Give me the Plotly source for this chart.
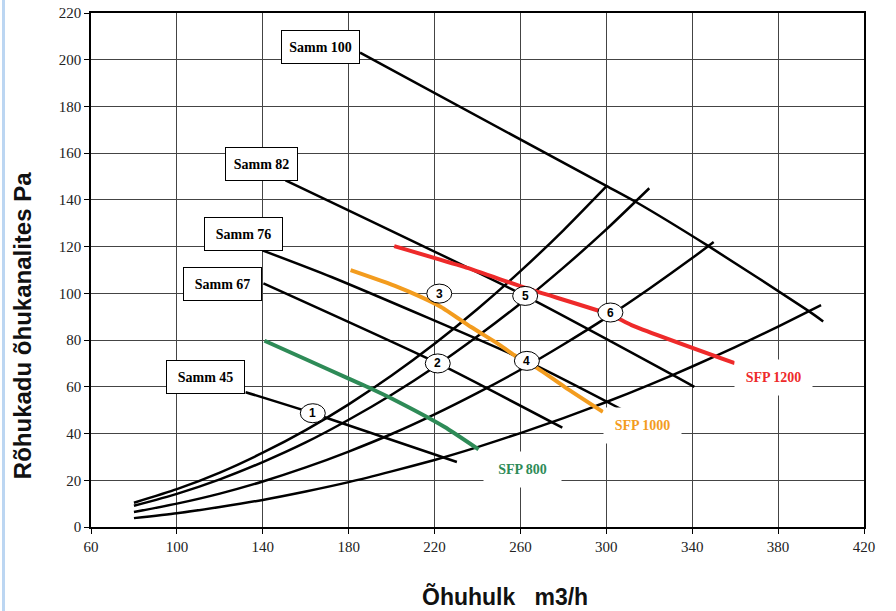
import plotly.graph_objects as go

# ---------------- data ----------------
# System curves (rising)
sys_a_x = [80, 100, 120, 140, 160, 180, 200, 220, 240, 260, 280, 300]
sys_a_y = [10.4, 16.2, 23.3, 31.8, 41.5, 52.5, 64.8, 78.4, 93.3, 109.5, 127.0, 145.8]
sys_b_x = [80, 100, 120, 140, 160, 180, 200, 220, 240, 260, 280, 300, 320]
sys_b_y = [9.1, 14.2, 20.4, 27.8, 36.2, 45.9, 56.6, 68.5, 81.6, 95.7, 111.0, 127.4, 145.0]
sys_c_x = [80, 100, 120, 140, 160, 180, 200, 220, 240, 260, 280, 300, 320, 340, 350]
sys_c_y = [6.4, 10.0, 14.3, 19.5, 25.5, 32.3, 39.8, 48.2, 57.4, 67.3, 78.1, 89.6, 102.0, 115.1, 122.0]
sys_d_x = [80, 100, 120, 140, 160, 180, 200, 220, 240, 260, 280, 300, 320, 340, 360, 380, 400]
sys_d_y = [3.8, 5.9, 8.6, 11.6, 15.2, 19.2, 23.8, 28.7, 34.2, 40.2, 46.6, 53.5, 60.8, 68.7, 77.0, 85.8, 95.0]

# Fan curves (Samm = speed step)
samm100_x = [185.3, 300, 314, 347.6, 394.3, 401]
samm100_y = [203.0, 146.0, 139.0, 120.2, 92.4, 88.0]
samm82_x = [150.6, 262, 341]
samm82_y = [148.4, 99.0, 60.0]
samm76_x = [139.8, 172, 263, 307]
samm76_y = [118.4, 107.0, 71.0, 50.4]
samm67_x = [140.3, 221.7, 279.5]
samm67_y = [104.3, 70.0, 42.5]
samm45_x = [132, 163.3, 230.4]
samm45_y = [57.7, 48.7, 27.8]

# SFP curves
sfp800_x = [140.8, 160, 180, 190.3, 200, 224.5, 240.5]
sfp800_y = [79.7, 71.8, 63.5, 59.3, 55.0, 42.9, 33.2]
sfp1000_x = [180.9, 202.7, 213.6, 223, 237, 249.4, 257.2, 268, 280.5, 298.4]
sfp1000_y = [109.9, 102.8, 98.5, 94.2, 85.6, 78.5, 73.5, 67.9, 60.0, 49.3]
sfp1200_x = [201.2, 233.8, 263.4, 302.3, 311.7, 359.8]
sfp1200_y = [120.2, 111.3, 102.0, 90.7, 86.4, 70.1]

# Numbered operating points
point_x = [163.3, 221.5, 222.2, 263.0, 262.2, 301.9]
point_y = [48.7, 70.0, 99.9, 71.1, 98.9, 91.8]
point_labels = ["1", "2", "3", "4", "5", "6"]

x_ticks = [60, 100, 140, 180, 220, 260, 300, 340, 380, 420]
y_ticks = [0, 20, 40, 60, 80, 100, 120, 140, 160, 180, 200, 220]

fig = go.Figure()

black_lines = [
    (sys_a_x, sys_a_y), (sys_b_x, sys_b_y), (sys_c_x, sys_c_y), (sys_d_x, sys_d_y),
    (samm100_x, samm100_y), (samm82_x, samm82_y), (samm76_x, samm76_y),
    (samm67_x, samm67_y), (samm45_x, samm45_y),
]
for xs, ys in black_lines:
    fig.add_trace(go.Scatter(x=xs, y=ys, mode="lines", line=dict(color="black", width=2.5, shape="spline", smoothing=0.6),
                             showlegend=False, hoverinfo="skip"))

for xs, ys, col in [(sfp800_x, sfp800_y, "#2e8b57"), (sfp1000_x, sfp1000_y, "#f39c1e"),
                    (sfp1200_x, sfp1200_y, "#ee2a2a")]:
    fig.add_trace(go.Scatter(x=xs, y=ys, mode="lines", line=dict(color=col, width=4, shape="spline", smoothing=0.6),
                             showlegend=False, hoverinfo="skip"))

shapes = []
annotations = []
for px, py, lab in zip(point_x, point_y, point_labels):
    shapes.append(dict(type="circle", xref="x", yref="y", xsizemode="pixel", ysizemode="pixel",
                       xanchor=px, yanchor=py, x0=-12.5, x1=12.5, y0=-9.5, y1=9.5,
                       fillcolor="white", line=dict(color="black", width=1), layer="above"))
    annotations.append(dict(x=px, y=py, xref="x", yref="y", text="<b>%s</b>" % lab, showarrow=False,
                            font=dict(family="Liberation Sans, Arial", size=12, color="black")))

# Samm labels
for txt, lx, ly, w in [("Samm 100", 166.7, 205.3, 75), ("Samm 82", 139.2, 155.3, 69),
                       ("Samm 76", 131.0, 125.3, 75), ("Samm 67", 121.4, 103.9, 75),
                       ("Samm 45", 113.2, 64.2, 75)]:
    annotations.append(dict(x=lx, y=ly, xref="x", yref="y", text="<b>%s</b>" % txt, showarrow=False,
                            font=dict(family="Liberation Serif, Times New Roman", size=14, color="black"),
                            bgcolor="white", bordercolor="black", borderwidth=1, borderpad=1,
                            width=w, height=30))

# SFP labels
for txt, lx, ly, col in [("SFP 1200", 377.7, 63.9, "#ee2a2a"), ("SFP 1000", 317.0, 43.4, "#f39c1e"),
                         ("SFP 800", 261.0, 24.4, "#2e8b57")]:
    annotations.append(dict(x=lx, y=ly, xref="x", yref="y", text="<b>%s</b>" % txt, showarrow=False,
                            font=dict(family="Liberation Serif, Times New Roman", size=14, color=col),
                            bgcolor="white", borderpad=0, width=77, height=35))

# axis titles
annotations.append(dict(x=0.535, y=-0.136, xref="paper", yref="paper", text="<b>Õhuhulk   m3/h</b>",
                        xanchor="center", yanchor="middle",
                        showarrow=False, font=dict(family="Liberation Sans, Arial", size=23, color="#111")))
annotations.append(dict(x=-0.0893, y=0.3926, xref="paper", yref="paper", text="<b>Rõhukadu õhukanalites Pa</b>",
                        xanchor="center", yanchor="middle",
                        textangle=-90, showarrow=False, font=dict(family="Liberation Sans, Arial", size=24, color="#111")))

# light blue frame line at left edge
shapes.append(dict(type="line", xref="paper", yref="paper", x0=-0.1132, x1=-0.1132, y0=-0.2, y1=1.1,
                   line=dict(color="#bcd6f2", width=3), layer="above"))

axis_font = dict(family="Liberation Serif, Times New Roman", size=15, color="#222")
fig.update_xaxes(range=[60, 420], tickvals=x_ticks, ticktext=[str(v) for v in x_ticks],
                 showgrid=True, gridcolor="#444", gridwidth=1, zeroline=False,
                 showline=True, linecolor="black", linewidth=1.5, mirror=True,
                 ticks="outside", ticklen=5, tickcolor="black", tickfont=axis_font, automargin=False)
fig.update_yaxes(range=[0, 220], tickvals=y_ticks, ticktext=[str(v) for v in y_ticks],
                 showgrid=True, gridcolor="#444", gridwidth=1, zeroline=False,
                 showline=True, linecolor="black", linewidth=1.5, mirror=True,
                 ticks="outside", ticklen=5, tickcolor="black", tickfont=axis_font, automargin=False)

fig.update_layout(width=896, height=611, margin=dict(l=91, r=32, t=13, b=84),
                  plot_bgcolor="white", paper_bgcolor="white",
                  shapes=shapes, annotations=annotations, showlegend=False)

fig.write_html("out.html")
